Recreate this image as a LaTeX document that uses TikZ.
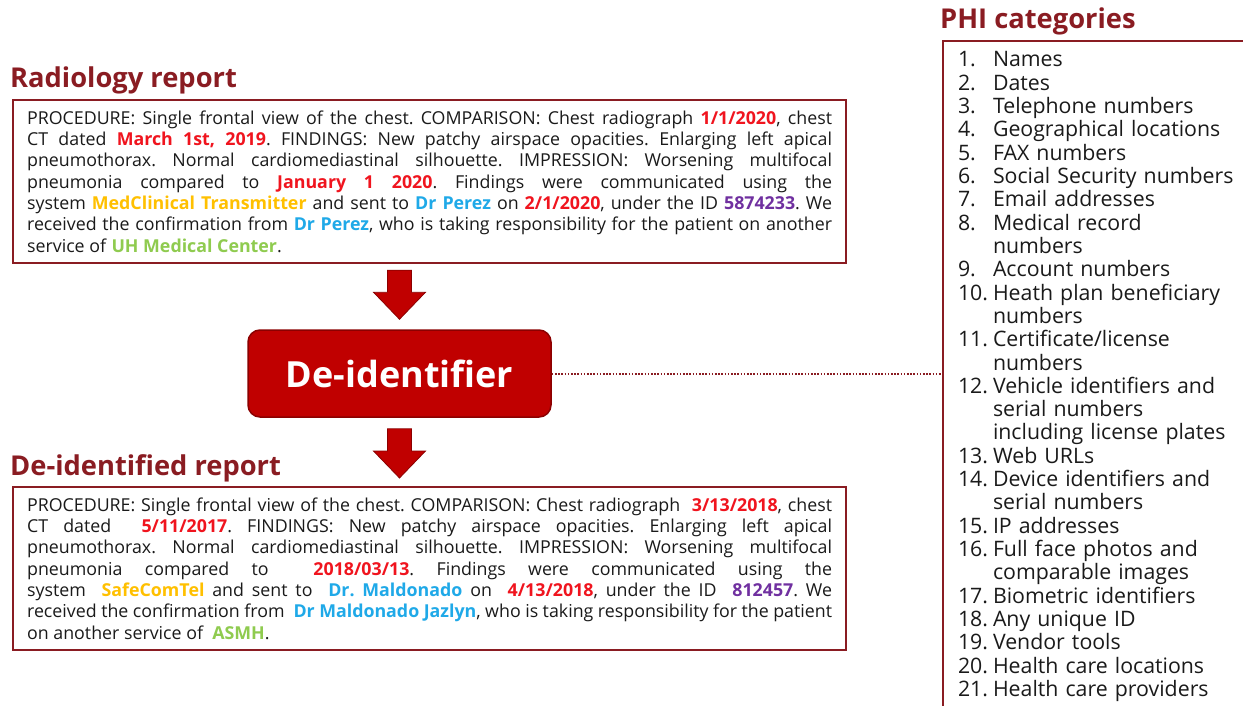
\documentclass[tikz,border=0pt]{standalone}
\usepackage{fontspec}
\setmainfont{Open Sans}
\usetikzlibrary{calc}

\definecolor{maroon}{HTML}{8A1C22}
\definecolor{deidred}{HTML}{C00000}
\definecolor{deidedge}{HTML}{8B0000}
\definecolor{phired}{HTML}{F0141E}
\definecolor{phiorange}{HTML}{FFC000}
\definecolor{phiblue}{HTML}{1FA9E8}
\definecolor{phigreen}{HTML}{8FCB4F}
\definecolor{phipurple}{HTML}{7030A0}
\definecolor{bodytext}{HTML}{1A1A1A}

% highlighted PHI spans
\newcommand\dt[1]{\textbf{\textcolor{phired}{#1}}}
\newcommand\sys[1]{\textbf{\textcolor{phiorange}{#1}}}
\newcommand\nm[1]{\textbf{\textcolor{phiblue}{#1}}}
\newcommand\idn[1]{\textbf{\textcolor{phipurple}{#1}}}
\newcommand\loc[1]{\textbf{\textcolor{phigreen}{#1}}}

% one justified report line / last line
\newcommand\jline[1]{\hbox to 805pt{\spaceskip=0pt\xspaceskip=0pt\frenchspacing #1}}
\newcommand\lline[1]{\hbox to 805pt{\spaceskip=0pt\xspaceskip=0pt\frenchspacing #1\hfil}}

% list entries of the PHI box
\newcommand\phiitem[2]{\hbox{\hbox to 35pt{#1\hfil}#2}}
\newcommand\phicont[1]{\hbox{\hbox to 35pt{\hfil}#1}}

% vertical block arrow between two coordinates
\newcommand\blockarrow[2]{%
  \path[blockarrowstyle] let \p1=(#1), \p2=(#2) in
    (\x1-12pt,\y1) -- (\x1+12pt,\y1) -- (\x1+12pt,\y2+27pt)
    -- (\x1+26pt,\y2+27pt) -- (\x1,\y2) -- (\x1-26pt,\y2+27pt)
    -- (\x1-12pt,\y2+27pt) -- cycle;}

\tikzset{
  title/.style={anchor=base west, inner sep=0pt, text=maroon,
    font=\fontsize{27.3}{32}\selectfont\bfseries},
  report/.style={draw=maroon, line width=2.2pt, anchor=north west,
    text width=805pt, inner xsep=14pt, minimum height=163pt,
    text=bodytext, font=\fontsize{17.8}{21.3}\selectfont},
  deidbox/.style={draw=deidedge, fill=deidred, line width=1.5pt,
    rounded corners=12pt, minimum width=303pt, minimum height=87pt,
    text=white, font=\fontsize{36}{40}\selectfont\bfseries},
  blockarrowstyle/.style={fill=deidred, draw=deidedge, line width=0.8pt},
  phibox/.style={draw=maroon, line width=2pt, anchor=north west,
    text width=300pt, inner xsep=15pt, inner ysep=10.5pt, text=bodytext,
    font=\fontsize{21.3}{23.33}\selectfont},
  link/.style={maroon, line width=2pt, dash pattern=on 1.6pt off 1.6pt}
}

\begin{document}
\begin{tikzpicture}[x=1pt, y=-1pt]
\useasboundingbox (0,0) rectangle (1243,706);
\fill[white] (0,0) rectangle (1243,706);
\clip (0,0) rectangle (1243,706);

% section titles
\node[title] (t1) at (10,88) {Radiology report};
\node[title] (t2) at (10,475) {De-identified report};
\node[title] (t3) at (940,29) {PHI categories};

% original report
\node[report] (rad) at (12,99) {\vbox{%
\jline{PROCEDURE: Single frontal view of the chest. COMPARISON: Chest radiograph \dt{1/1/2020}, chest}
\jline{CT dated \dt{March 1st, 2019}. FINDINGS: New patchy airspace opacities. Enlarging left apical}
\jline{pneumothorax. Normal cardiomediastinal silhouette. IMPRESSION: Worsening multifocal}
\jline{pneumonia compared to \dt{January 1 2020}. Findings were communicated using the}
\jline{system \sys{MedClinical Transmitter} and sent to \nm{Dr Perez} on \dt{2/1/2020}, under the ID \idn{5874233}. We}
\jline{received the confirmation from \nm{Dr Perez}, who is taking responsibility for the patient on another}
\lline{service of \loc{UH Medical Center}.}}};

% de-identifier
\node[deidbox] (deid) at (399.5,373.5) {De-identifier};

% de-identified report
\node[report] (out) at (12,486) {\vbox{%
\jline{PROCEDURE: Single frontal view of the chest. COMPARISON: Chest radiograph \ \dt{3/13/2018}, chest}
\jline{CT dated \ \dt{5/11/2017}. FINDINGS: New patchy airspace opacities. Enlarging left apical}
\jline{pneumothorax. Normal cardiomediastinal silhouette. IMPRESSION: Worsening multifocal}
\jline{pneumonia compared to \ \dt{2018/03/13}. Findings were communicated using the}
\jline{system \ \sys{SafeComTel} and sent to \ \nm{Dr. Maldonado} on \ \dt{4/13/2018}, under the ID \ \idn{812457}. We}
\jline{received the confirmation from \ \nm{Dr Maldonado Jazlyn}, who is taking responsibility for the patient}
\lline{on another service of \ \loc{ASMH}.}}};

% PHI categories list
\node[phibox] (phi) at (942,40) {\vbox{%
\phiitem{1.}{Names}
\phiitem{2.}{Dates}
\phiitem{3.}{Telephone numbers}
\phiitem{4.}{Geographical locations}
\phiitem{5.}{FAX numbers}
\phiitem{6.}{Social Security numbers}
\phiitem{7.}{Email addresses}
\phiitem{8.}{Medical record}
\phicont{numbers}
\phiitem{9.}{Account numbers}
\phiitem{10.}{Heath plan beneficiary}
\phicont{numbers}
\phiitem{11.}{Certificate/license}
\phicont{numbers}
\phiitem{12.}{Vehicle identifiers and}
\phicont{serial numbers}
\phicont{including license plates}
\phiitem{13.}{Web URLs}
\phiitem{14.}{Device identifiers and}
\phicont{serial numbers}
\phiitem{15.}{IP addresses}
\phiitem{16.}{Full face photos and}
\phicont{comparable images}
\phiitem{17.}{Biometric identifiers}
\phiitem{18.}{Any unique ID}
\phiitem{19.}{Vendor tools}
\phiitem{20.}{Health care locations}
\phiitem{21.}{Health care providers}
\vskip 30pt}};

% flow arrows
\coordinate (a1s) at ($(deid.north |- rad.south)+(0,6)$);
\coordinate (a1e) at ($(deid.north)+(0,-10)$);
\blockarrow{a1s}{a1e}
\coordinate (a2s) at ($(deid.south)+(0,11)$);
\coordinate (a2e) at ($(deid.south |- out.north)+(0,-8)$);
\blockarrow{a2s}{a2e}

% link to the category list
\draw[link] (deid.east) -- (deid.east -| phi.west);
\end{tikzpicture}
\end{document}
